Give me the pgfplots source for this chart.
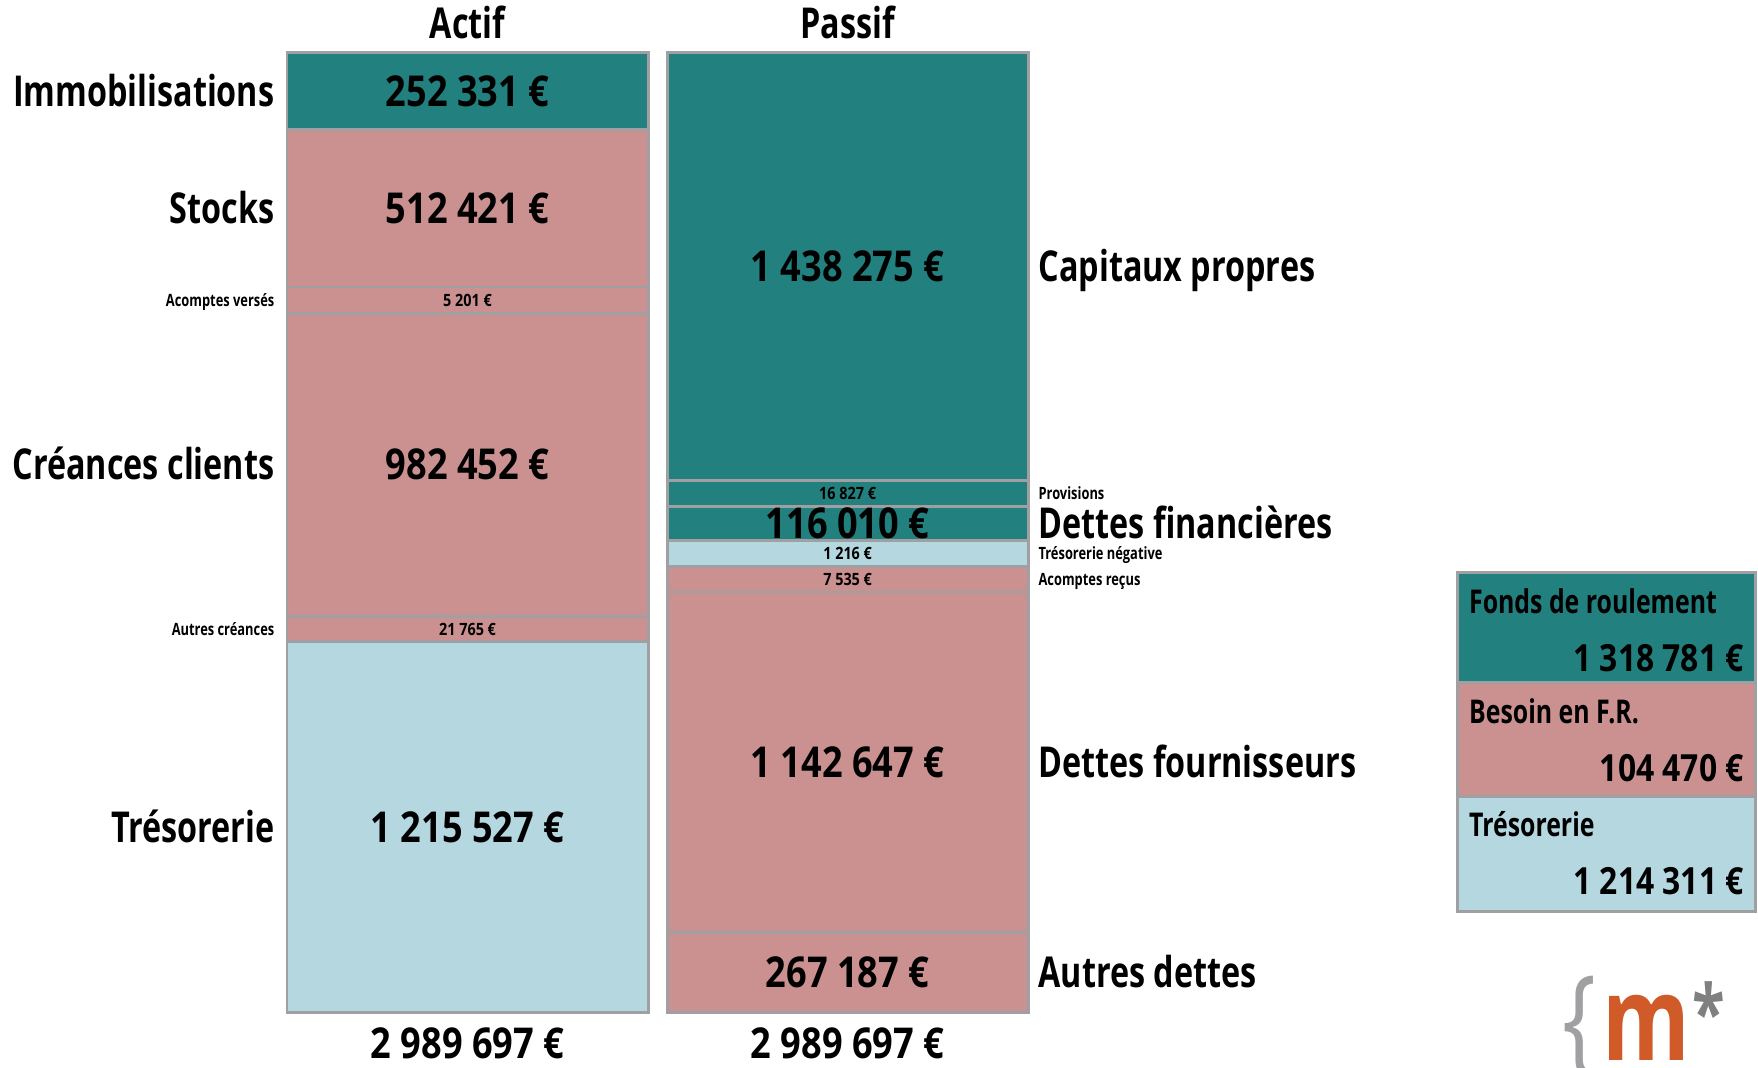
\documentclass[border=0pt]{standalone}
\usepackage{fontspec}
\setmainfont{Open Sans}[FakeStretch=0.76]
\newfontfamily\numfont{Open Sans}[FakeStretch=0.85]
\usepackage{pgfplots}
\pgfplotsset{compat=1.18}

\definecolor{teal1}{RGB}{34,128,127}
\definecolor{pink1}{RGB}{202,145,144}
\definecolor{blue1}{RGB}{181,215,223}
\definecolor{edge}{RGB}{160,160,163}
\definecolor{logoorange}{RGB}{208,90,40}
\definecolor{logogray}{RGB}{128,128,128}

% font sizes (1 px of the reference = 0.01cm)
\newcommand\fbig{\bfseries\fontsize{10.8pt}{12pt}\selectfont}
\newcommand\fsmall{\bfseries\fontsize{4.3pt}{5pt}\selectfont}
\newcommand\ftitle{\bfseries\fontsize{8.3pt}{10pt}\selectfont}
\newcommand\fval{\numfont\bfseries\fontsize{9.5pt}{11pt}\selectfont}
% half cap height, to centre text on a segment
\newcommand\hbig{0.136cm}
\newcommand\hsmall{0.054cm}

\tikzset{
  lblL/.style={anchor=base east, xshift=-1.71cm},
  lblR/.style={anchor=base west, xshift=1.69cm},
}
\pgfplotsset{
  balance/.style={hide axis, scale only axis, clip=false, ybar stacked,
    ymin=0, xmin=-1, xmax=1, anchor=south west},
}

% segment of a balance bar: side, colour, height, value, label, size
% (stacked nodes near coords sit at the middle of their segment)
\newcommand\seg[6]{%
  \addplot[fill=#2, draw=edge, line width=0.75pt, nodes near coords={#4},
    every node near coord/.append style={inner sep=0pt, anchor=base,
      font=\numfont\csname f#6\endcsname,
      yshift=-\csname h#6\endcsname,
      label={[inner sep=0pt, font=\csname f#6\endcsname, #1]base:#5}}]
    coordinates {(0,#3)};}
% segment of the summary box: colour, height, value, title
\newcommand\segB[4]{%
  \addplot[fill=#1, draw=edge, line width=0.75pt, nodes near coords={#3},
    every node near coord/.append style={inner sep=0pt, anchor=base east,
      font=\fval, xshift=1.235cm, yshift=#2*0.005cm-0.88cm,
      label={[inner sep=0pt, font=\ftitle, anchor=base west,
        xshift=-2.475cm, yshift=0.52cm]base east:#4}}]
    coordinates {(0,#2)};}

\begin{document}
\begin{tikzpicture}
\useasboundingbox (0,0) rectangle (15.68cm,9.52cm);

% Actif
\begin{axis}[balance, at={(2.56cm,0.49cm)}, width=3.22cm, height=8.56cm,
  ymax=856, bar width=3.22cm]
\seg{lblL}{blue1}{330.5}{1 215 527 €}{Trésorerie}{big}
\seg{lblL}{pink1}{23}{21 765 €}{Autres créances}{small}
\seg{lblL}{pink1}{270}{982 452 €}{Créances clients}{big}
\seg{lblL}{pink1}{23.5}{5 201 €}{Acomptes versés}{small}
\seg{lblL}{pink1}{140.5}{512 421 €}{Stocks}{big}
\seg{lblL}{teal1}{68.5}{252 331 €}{Immobilisations}{big}
\node[anchor=base, font=\fbig, yshift=0.125cm] at (rel axis cs:0.5,1) {Actif};
\node[anchor=base, font=\numfont\fbig, yshift=-0.413cm] at (rel axis cs:0.5,0) {2 989 697 €};
\end{axis}

% Passif
\begin{axis}[balance, at={(5.95cm,0.49cm)}, width=3.22cm, height=8.56cm,
  ymax=856, bar width=3.22cm]
\seg{lblR}{pink1}{71.5}{267 187 €}{Autres dettes}{big}
\seg{lblR}{pink1}{303.5}{1 142 647 €}{Dettes fournisseurs}{big}
\seg{lblR}{pink1}{23}{7 535 €}{Acomptes reçus}{small}
\seg{lblR}{blue1}{23}{1 216 €}{Trésorerie négative}{small}
\seg{lblR}{teal1}{30.5}{116 010 €}{Dettes financières}{big}
\seg{lblR}{teal1}{23}{16 827 €}{Provisions}{small}
\seg{lblR}{teal1}{381.5}{1 438 275 €}{Capitaux propres}{big}
\node[anchor=base, font=\fbig, yshift=0.125cm] at (rel axis cs:0.5,1) {Passif};
\node[anchor=base, font=\numfont\fbig, yshift=-0.413cm] at (rel axis cs:0.5,0) {2 989 697 €};
\end{axis}

% summary box
\begin{axis}[balance, at={(13.00cm,1.39cm)}, width=2.66cm, height=3.02cm,
  ymax=302, bar width=2.66cm]
\segB{blue1}{103}{1 214 311 €}{Trésorerie}
\segB{pink1}{101}{104 470 €}{Besoin en F.R.}
\segB{teal1}{98}{1 318 781 €}{Fonds de roulement}
\end{axis}

% logo
\node[anchor=base west, inner sep=0pt, text=edge,
  font=\fontsize{30pt}{30pt}\selectfont] at (13.93cm,0.06cm) {\{};
\node[anchor=base west, inner sep=0pt, text=logoorange,
  font=\bfseries\fontsize{29.8pt}{30pt}\selectfont] at (14.29cm,0.06cm) {m};
\node[anchor=center, inner sep=0pt, text=logogray,
  font=\bfseries\fontsize{20pt}{20pt}\selectfont] at (15.245cm,0.50cm) {*};
\end{tikzpicture}
\end{document}
